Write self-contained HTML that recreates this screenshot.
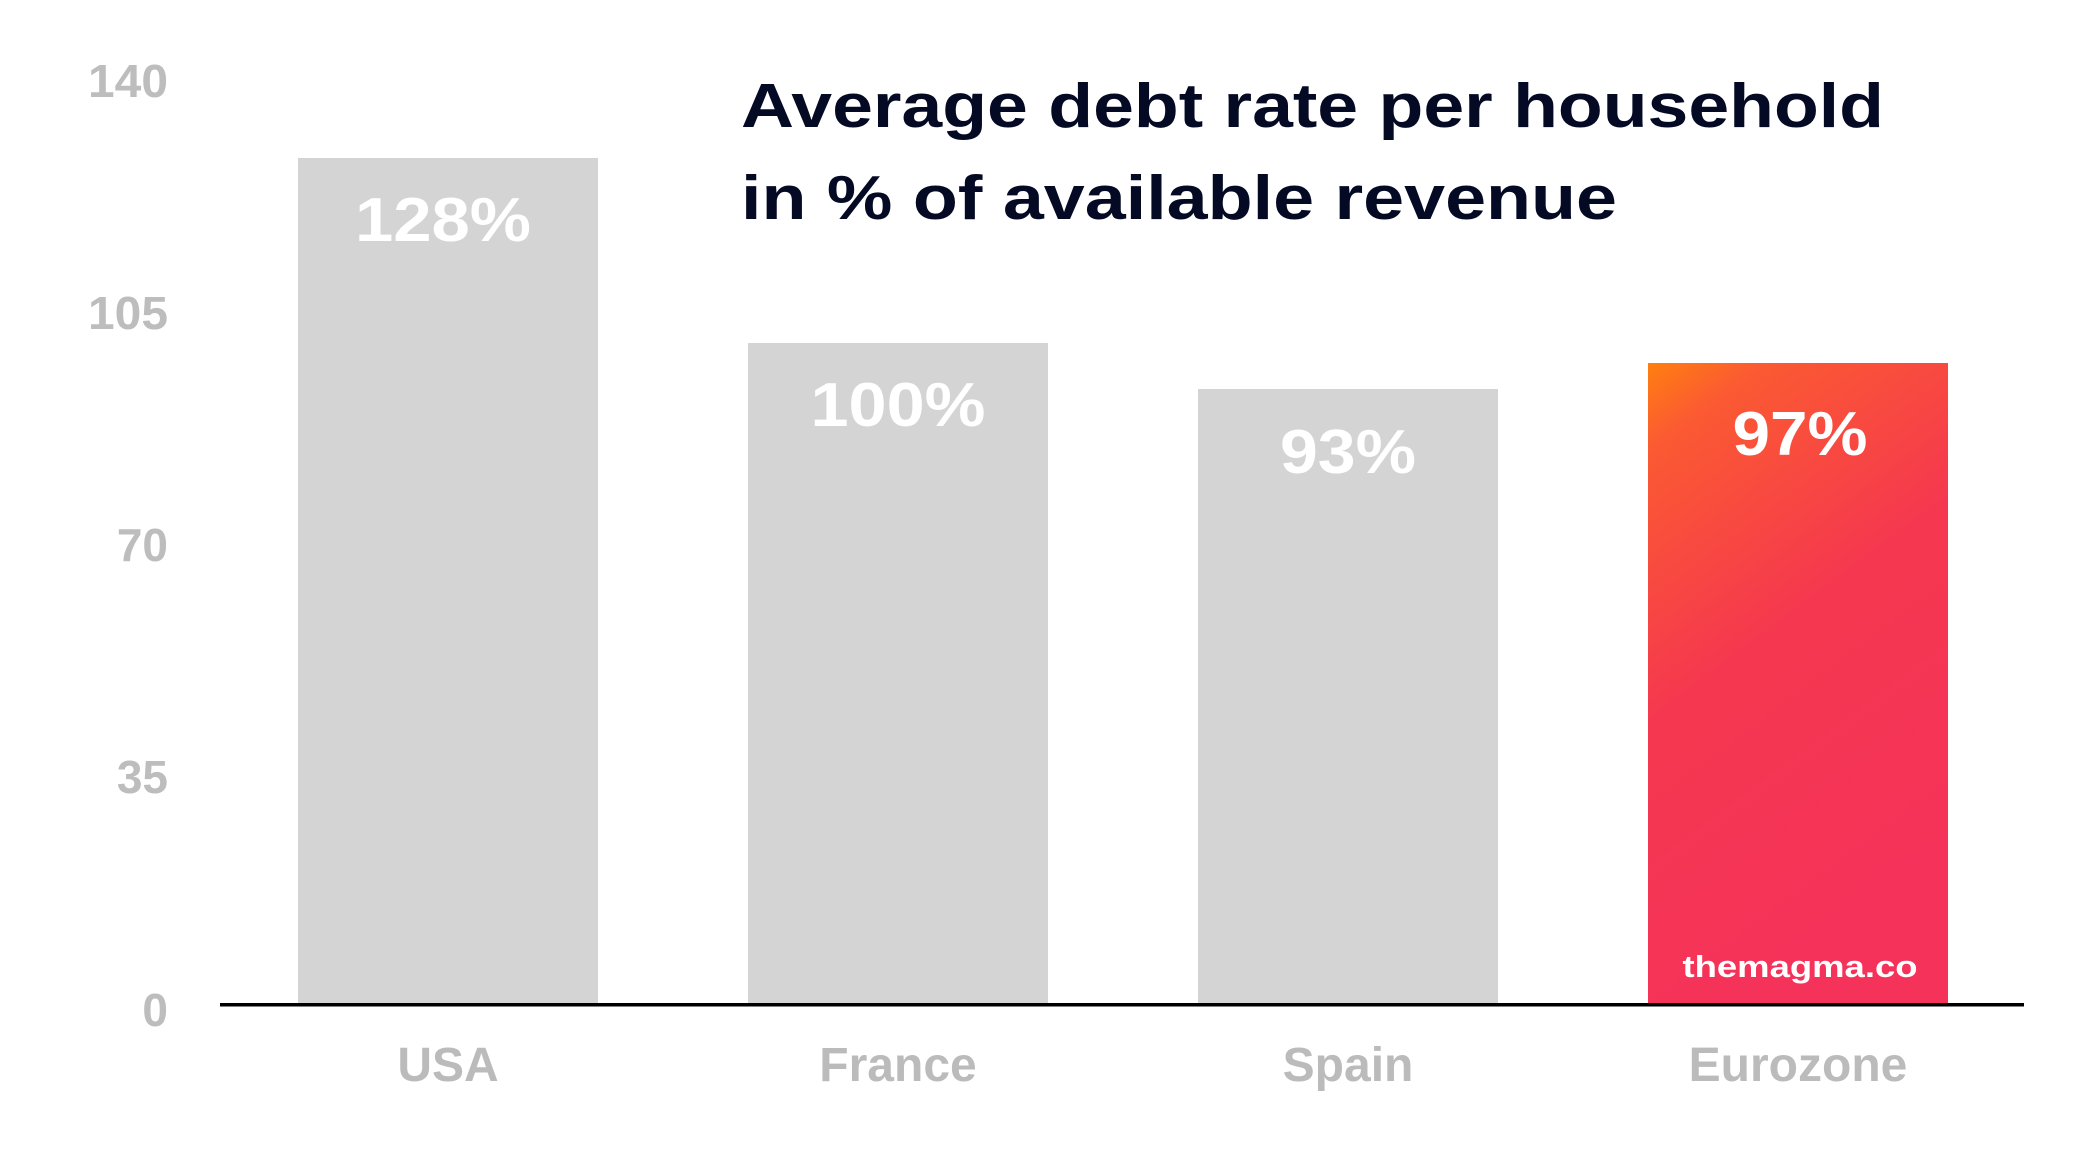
<!DOCTYPE html>
<html><head><meta charset="utf-8"><style>
body{margin:0;background:#fff;}
svg{display:block;}
</style></head><body>
<svg width="2096" height="1176" viewBox="0 0 2096 1176" xmlns="http://www.w3.org/2000/svg">
<defs>
<linearGradient id="g" x1="0" y1="0" x2="0.35" y2="1">
<stop offset="0" stop-color="#ff7f10"/>
<stop offset="0.12" stop-color="#fb5a32"/>
<stop offset="0.5" stop-color="#f5384f"/>
<stop offset="1" stop-color="#f5325a"/>
</linearGradient>
</defs>
<g font-family="Liberation Sans, sans-serif" font-weight="bold" fill="#bdbdbd" font-size="46" text-anchor="end">
<text x="168" y="97" textLength="80" lengthAdjust="spacingAndGlyphs">140</text>
<text x="168" y="329" textLength="80" lengthAdjust="spacingAndGlyphs">105</text>
<text x="168" y="561">70</text>
<text x="168" y="793">35</text>
<text x="168" y="1026">0</text>
</g>
<rect x="298" y="158" width="300" height="847" fill="#d4d4d4"/>
<rect x="748" y="343" width="300" height="662" fill="#d4d4d4"/>
<rect x="1198" y="389" width="300" height="616" fill="#d4d4d4"/>
<rect x="1648" y="363" width="300" height="642" fill="url(#g)"/>
<rect x="220" y="1003" width="1804" height="3.5" fill="#000"/>
<g font-family="Liberation Sans, sans-serif" font-weight="bold" fill="#fff" font-size="62" text-anchor="middle" lengthAdjust="spacingAndGlyphs">
<text x="443" y="241" textLength="176" lengthAdjust="spacingAndGlyphs">128%</text>
<text x="898" y="426" textLength="175" lengthAdjust="spacingAndGlyphs">100%</text>
<text x="1348" y="473" textLength="136" lengthAdjust="spacingAndGlyphs">93%</text>
<text x="1800" y="455" textLength="135" lengthAdjust="spacingAndGlyphs">97%</text>
<text x="1800" y="977" font-size="31" textLength="235" lengthAdjust="spacingAndGlyphs">themagma.co</text>
</g>
<g font-family="Liberation Sans, sans-serif" font-weight="bold" fill="#bbbbbb" font-size="48" text-anchor="middle">
<text x="448" y="1081">USA</text>
<text x="898" y="1081">France</text>
<text x="1348" y="1081">Spain</text>
<text x="1798" y="1081">Eurozone</text>
</g>
<g font-family="Liberation Sans, sans-serif" font-weight="bold" fill="#050a24" font-size="62">
<text x="741" y="127" textLength="1143" lengthAdjust="spacingAndGlyphs">Average debt rate per household</text>
<text x="741" y="219" textLength="876" lengthAdjust="spacingAndGlyphs">in % of available revenue</text>
</g>
</svg>
</body></html>
